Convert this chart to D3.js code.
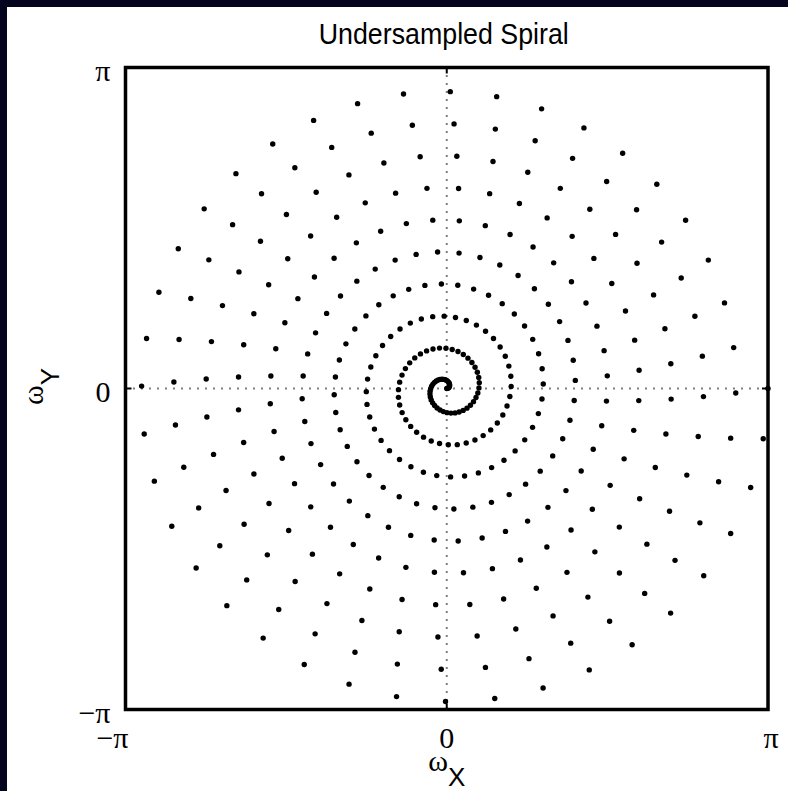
<!DOCTYPE html>
<html>
<head>
<meta charset="utf-8">
<script src="https://cdn.jsdelivr.net/npm/d3@7"></script>
<style>
  html, body { margin: 0; padding: 0; background: #04041f; }
  svg { display: block; }
</style>
</head>
<body>
<div id="chart"></div>
<script>
// Trajectory: 400 samples, 10 turns, out to |k| = pi
const sampleCount = [400];
const turnCount = [10];
const kMax = [Math.PI];

const xTicks = [-Math.PI, 0, Math.PI];
const yTicks = [-Math.PI, 0, Math.PI];
const tickLabels = ["\u2212\u03c0", "0", "\u03c0"];

const width = 788;
const height = 791;
const margin = { top: 67.5, right: 20, bottom: 81.5, left: 125.5 };

const svg = d3.select("#chart")
    .append("svg")
    .attr("width", width)
    .attr("height", height);

// dark band on top and left, white figure
svg.append("rect").attr("width", width).attr("height", height).attr("fill", "#04041f");
svg.append("rect").attr("x", 7).attr("y", 7)
    .attr("width", width - 7).attr("height", height - 7)
    .attr("fill", "#fff");

const x = d3.scaleLinear()
    .domain([-Math.PI, Math.PI])
    .range([margin.left, width - margin.right]);

const y = d3.scaleLinear()
    .domain([-Math.PI, Math.PI])
    .range([height - margin.bottom, margin.top]);

// sample times t = linspace(0, 1, N)
const n = sampleCount[0];
const times = d3.range(n).map(i => i / (n - 1));
const points = times.map(t => ({
    kx: kMax[0] * t * Math.cos(2 * Math.PI * turnCount[0] * t),
    ky: kMax[0] * t * Math.sin(2 * Math.PI * turnCount[0] * t)
}));

// dotted zero lines
svg.append("line")
    .attr("x1", x(0)).attr("x2", x(0))
    .attr("y1", y(Math.PI)).attr("y2", y(-Math.PI))
    .attr("stroke", "#000").attr("stroke-width", 2)
    .attr("stroke-dasharray", "1,7");

svg.append("line")
    .attr("x1", x(-Math.PI)).attr("x2", x(Math.PI))
    .attr("y1", y(0)).attr("y2", y(0))
    .attr("stroke", "#000").attr("stroke-width", 2)
    .attr("stroke-dasharray", "1,7");

// spiral samples
svg.append("g")
    .selectAll("circle")
    .data(points)
    .enter().append("circle")
    .attr("cx", d => x(d.kx))
    .attr("cy", d => y(d.ky))
    .attr("r", 2.7)
    .attr("fill", "#000");

// inward ticks on all four sides
const tickLen = 6;
const ticks = svg.append("g").attr("stroke", "#000").attr("stroke-width", 2);
xTicks.forEach(v => {
    ticks.append("line").attr("x1", x(v)).attr("x2", x(v))
        .attr("y1", y(-Math.PI)).attr("y2", y(-Math.PI) - tickLen);
    ticks.append("line").attr("x1", x(v)).attr("x2", x(v))
        .attr("y1", y(Math.PI)).attr("y2", y(Math.PI) + tickLen);
});
yTicks.forEach(v => {
    ticks.append("line").attr("y1", y(v)).attr("y2", y(v))
        .attr("x1", x(-Math.PI)).attr("x2", x(-Math.PI) + tickLen);
    ticks.append("line").attr("y1", y(v)).attr("y2", y(v))
        .attr("x1", x(Math.PI)).attr("x2", x(Math.PI) - tickLen);
});

// frame
svg.append("rect")
    .attr("x", x(-Math.PI)).attr("y", y(Math.PI))
    .attr("width", x(Math.PI) - x(-Math.PI))
    .attr("height", y(-Math.PI) - y(Math.PI))
    .attr("fill", "none")
    .attr("stroke", "#000")
    .attr("stroke-width", 3.5);

const serif = "'Liberation Serif', 'Times New Roman', serif";
const sans = "'Liberation Sans', Arial, sans-serif";

// tick labels
const xNudge = [-13, 0, 3];
svg.append("g")
    .selectAll("text")
    .data(xTicks)
    .enter().append("text")
    .attr("x", (d, i) => x(d) + xNudge[i])
    .attr("y", y(-Math.PI) + 38.5)
    .attr("text-anchor", "middle")
    .attr("font-family", serif)
    .attr("font-size", 30)
    .text((d, i) => tickLabels[i]);

svg.append("g")
    .selectAll("text")
    .data(yTicks)
    .enter().append("text")
    .attr("x", margin.left - 15)
    .attr("y", d => y(d) + 13)
    .attr("text-anchor", "end")
    .attr("font-family", serif)
    .attr("font-size", 30)
    .text((d, i) => tickLabels[i]);

// axis labels
const xl = svg.append("text")
    .attr("x", x(0))
    .attr("y", 771)
    .attr("text-anchor", "middle");
xl.append("tspan").attr("font-family", serif).attr("font-size", 30).text("\u03c9");
xl.append("tspan").attr("font-family", sans).attr("font-size", 26).attr("dy", 15).text("X");

const yl = svg.append("text")
    .attr("transform", `translate(43,${y(0) - 2}) rotate(-90)`)
    .attr("text-anchor", "middle");
yl.append("tspan").attr("font-family", serif).attr("font-size", 30).text("\u03c9");
yl.append("tspan").attr("font-family", sans).attr("font-size", 26).attr("dy", 16).text("Y");

// title
svg.append("text")
    .attr("x", x(0) - 3)
    .attr("y", 44)
    .attr("text-anchor", "middle")
    .attr("font-family", sans)
    .attr("font-size", 29)
    .attr("textLength", 250)
    .attr("lengthAdjust", "spacingAndGlyphs")
    .attr("fill", "#000")
    .text("Undersampled Spiral");
</script>
</body>
</html>
